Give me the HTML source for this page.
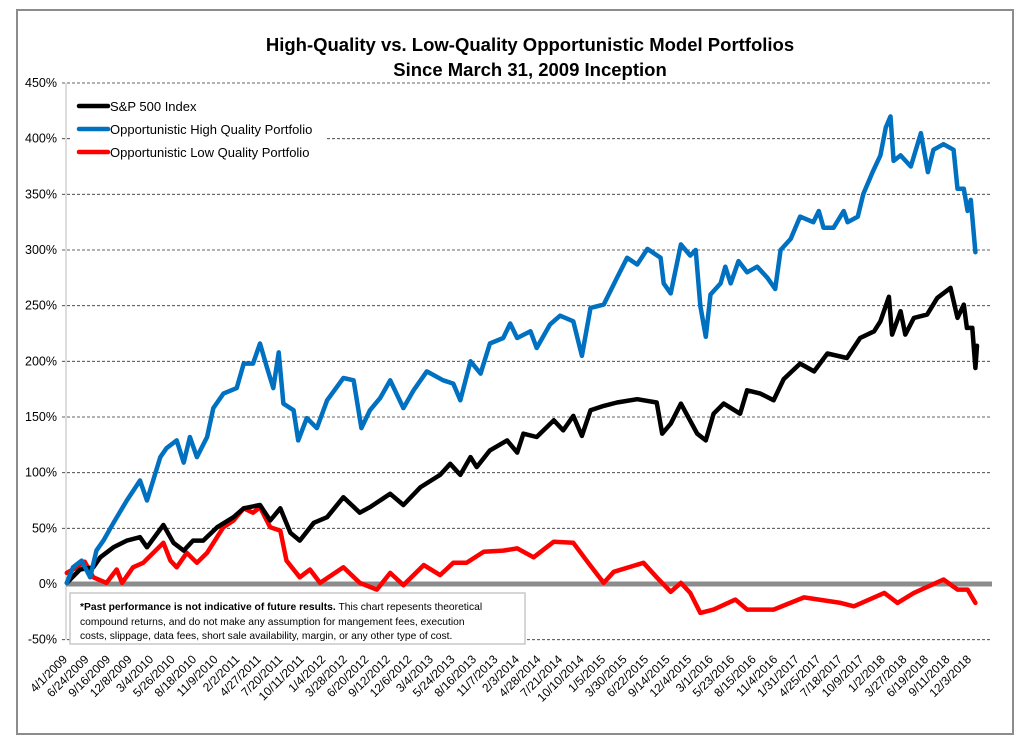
<!DOCTYPE html>
<html><head><meta charset="utf-8"><style>
html,body{margin:0;padding:0;background:#fff;}
svg{display:block;font-family:"Liberation Sans",sans-serif;}
</style></head><body>
<svg id="chart" width="1029" height="742" viewBox="0 0 1029 742" xmlns="http://www.w3.org/2000/svg">
<rect x="17" y="10" width="996" height="724" fill="#fff" stroke="#8c8c8c" stroke-width="2"/>
<text x="530" y="51" text-anchor="middle" font-size="18.5" font-weight="bold">High-Quality vs. Low-Quality Opportunistic Model Portfolios</text>
<text x="530" y="76" text-anchor="middle" font-size="18.5" font-weight="bold">Since March 31, 2009 Inception</text>
<g id="grid"></g>
<g id="yticks"></g>
<g id="xticks"></g>
<g id="series"></g>
<g>
<rect x="70" y="95" width="256" height="70" fill="#fff"/>
<line x1="79" y1="106" x2="108" y2="106" stroke="#000" stroke-width="4.5" stroke-linecap="round"/>
<text x="110" y="111" font-size="13">S&amp;P 500 Index</text>
<line x1="79" y1="129" x2="108" y2="129" stroke="#0070c0" stroke-width="4.5" stroke-linecap="round"/>
<text x="110" y="134" font-size="13">Opportunistic High Quality Portfolio</text>
<line x1="79" y1="152" x2="108" y2="152" stroke="#ff0000" stroke-width="4.5" stroke-linecap="round"/>
<text x="110" y="157" font-size="13">Opportunistic Low Quality Portfolio</text>
</g>
<g>
<rect x="70" y="593" width="455" height="51" fill="#fff" stroke="#c8c8c8" stroke-width="1.5"/>
<text x="80" y="610" font-size="10.3"><tspan font-weight="bold">*Past performance is not indicative of future results.</tspan> This chart repesents theoretical</text>
<text x="80" y="625" font-size="10.3">compound returns, and do not make any assumption  for mangement fees, execution</text>
<text x="80" y="639" font-size="10.3">costs, slippage, data fees, short sale availability, margin, or any other type of cost.</text>
</g>
</svg>
<script>
const yTicks=[450,400,350,300,250,200,150,100,50,0,-50];
const xTickLabels=["4/1/2009","6/24/2009","9/16/2009","12/8/2009","3/4/2010","5/26/2010","8/18/2010","11/9/2010","2/2/2011","4/27/2011","7/20/2011","10/11/2011","1/4/2012","3/28/2012","6/20/2012","9/12/2012","12/6/2012","3/4/2013","5/24/2013","8/16/2013","11/7/2013","2/3/2014","4/28/2014","7/21/2014","10/10/2014","1/5/2015","3/30/2015","6/22/2015","9/14/2015","12/4/2015","3/1/2016","5/23/2016","8/15/2016","11/4/2016","1/31/2017","4/25/2017","7/18/2017","10/9/2017","1/2/2018","3/27/2018","6/19/2018","9/11/2018","12/3/2018"];
const hqMonths=[0.1,0.9,2.0,3.1,3.9,4.8,6.1,7.8,9.5,10.4,12.1,12.9,14.2,15.1,15.9,16.8,18.1,18.9,20.2,21.9,22.8,24.0,24.9,25.8,26.6,27.3,27.9,29.2,29.8,30.9,32.2,33.5,35.6,36.9,37.9,39.0,40.3,41.6,43.3,44.6,46.3,48.4,49.7,50.6,51.9,53.2,54.4,56.1,57.0,57.9,59.6,60.4,62.1,63.4,65.1,66.2,67.3,69.0,70.7,72.0,73.3,74.6,76.3,76.7,77.6,78.9,80.1,80.8,81.4,82.1,82.7,84.0,84.6,85.3,86.3,87.4,88.7,90.0,91.0,91.7,93.0,94.2,95.9,96.6,97.2,98.5,99.8,100.3,101.6,102.3,103.5,104.5,105.2,105.8,106.2,107.1,108.4,109.7,110.6,111.3,112.6,113.9,114.4,115.2,115.7,116.1,116.7];
const hqValues=[1,15,21,6,30,39,55,75,93,75,114,122,129,109,132,114,132,158,171,176,198,198,216,194,176,208,162,156,129,149,140,165,185,183,140,156,167,183,158,174,191,183,180,165,200,189,216,221,234,221,227,212,233,241,236,205,248,251,275,293,287,301,293,270,261,305,295,300,250,222,260,270,285,270,290,280,285,275,265,300,310,330,325,335,320,320,335,325,330,350,370,385,410,420,380,385,375,405,370,390,395,390,355,355,335,345,298];
const spMonths=[0.1,1.8,3.5,4.4,6.1,7.8,9.5,10.4,12.5,13.8,15.1,16.3,17.6,19.4,21.5,22.8,24.9,26.2,27.5,28.8,30.0,31.8,33.5,35.6,37.7,39.0,41.6,43.3,45.5,48.0,49.3,50.6,51.9,52.7,54.4,56.6,57.9,58.7,60.4,62.6,63.8,65.1,66.2,67.3,69.0,70.7,73.3,75.8,76.5,77.6,78.9,81.0,82.1,83.1,84.4,86.5,87.4,89.1,90.8,92.1,94.2,96.0,97.7,100.2,101.9,103.7,104.5,105.6,106.0,107.1,107.7,108.8,110.5,111.8,113.5,114.4,115.2,115.6,116.3,116.7,116.9];
const spValues=[1,13,15,24,33,39,42,33,53,37,30,39,39,51,60,68,71,57,68,46,39,55,60,78,64,69,81,71,87,98,108,98,114,105,120,129,118,135,132,147,138,151,133,156,160,163,166,163,135,144,162,135,129,153,162,153,174,171,165,184,198,191,207,203,221,227,236,258,224,245,224,239,242,257,266,239,251,230,230,194,214];
const lqMonths=[0.1,1.4,2.4,3.5,5.2,6.5,7.2,8.6,9.9,11.2,12.5,13.4,14.2,15.5,16.8,18.1,20.2,21.5,22.8,24.0,24.9,26.2,27.5,28.3,30.0,31.3,32.6,35.6,37.7,39.9,41.6,43.3,45.9,48.0,49.7,51.4,53.6,56.1,57.9,60.0,62.6,65.1,66.9,69.0,70.3,74.1,75.8,77.6,78.9,80.1,81.4,83.1,85.9,87.4,90.8,94.7,99.4,101.1,105.0,106.7,108.8,112.6,114.4,115.7,116.7];
const lqValues=[10,15,20,6,1,13,1,15,19,28,37,21,15,28,19,28,51,57,68,64,69,51,48,21,6,13,1,15,1,-5,10,-1,17,8,19,19,29,30,32,24,38,37,20,1,11,19,6,-7,1,-8,-26,-23,-14,-23,-23,-12,-17,-20,-8,-17,-8,4,-5,-5,-17];

const NS="http://www.w3.org/2000/svg";
const X0=66,X1=977,M1=116.9,Y0=584,PPP=501/450;
function xScale(m){return X0+(m/M1)*(X1-X0);}
function yScale(v){return Y0-v*PPP;}
function mk(tag,attrs,parent){const e=document.createElementNS(NS,tag);for(const k in attrs)e.setAttribute(k,attrs[k]);parent.appendChild(e);return e;}
const grid=document.getElementById('grid'),yt=document.getElementById('yticks'),xt=document.getElementById('xticks'),ser=document.getElementById('series');
yTicks.forEach(v=>{
  const y=yScale(v);
  if(v!==0){const l=mk('line',{x1:62,x2:992,y1:y,y2:y,stroke:'#333','stroke-width':0.8,'stroke-dasharray':'3,2'},grid);
  
  }
  const t=mk('text',{x:57,y:y+4,'text-anchor':'end','font-size':12.5},yt);
  t.textContent=v+'%';
  
  
});
const ax=mk('line',{x1:66,x2:66,y1:yScale(450),y2:yScale(-50),stroke:'#bbb','stroke-width':1},grid);


const n=xTickLabels.length;
xTickLabels.forEach((s,i)=>{
  const x=68+i*(972-68)/(n-1);
  const t=mk('text',{x:x,y:660,'text-anchor':'end','font-size':12,transform:'rotate(-45 '+x+' 660)'},xt);
  t.textContent=s;
  
  
});
function drawSeries(ms,vs,color,name){
  const d=ms.map((m,i)=>(i?'L':'M')+xScale(m).toFixed(1)+','+yScale(vs[i]).toFixed(1)).join('');
  const p=mk('path',{d:d,fill:'none',stroke:color,'stroke-width':4.5,'stroke-linejoin':'round','stroke-linecap':'round'},ser);
  
  
}
drawSeries(lqMonths,lqValues,'#ff0000','low-quality-line');
drawSeries(spMonths,spValues,'#000000','sp500-line');
drawSeries(hqMonths,hqValues,'#0070c0','high-quality-line');
const z=mk('line',{x1:66,x2:992,y1:Y0,y2:Y0,stroke:'#8c8c8c','stroke-width':5},ser);


ser.insertBefore(z,ser.firstChild);
</script>
</body></html>
